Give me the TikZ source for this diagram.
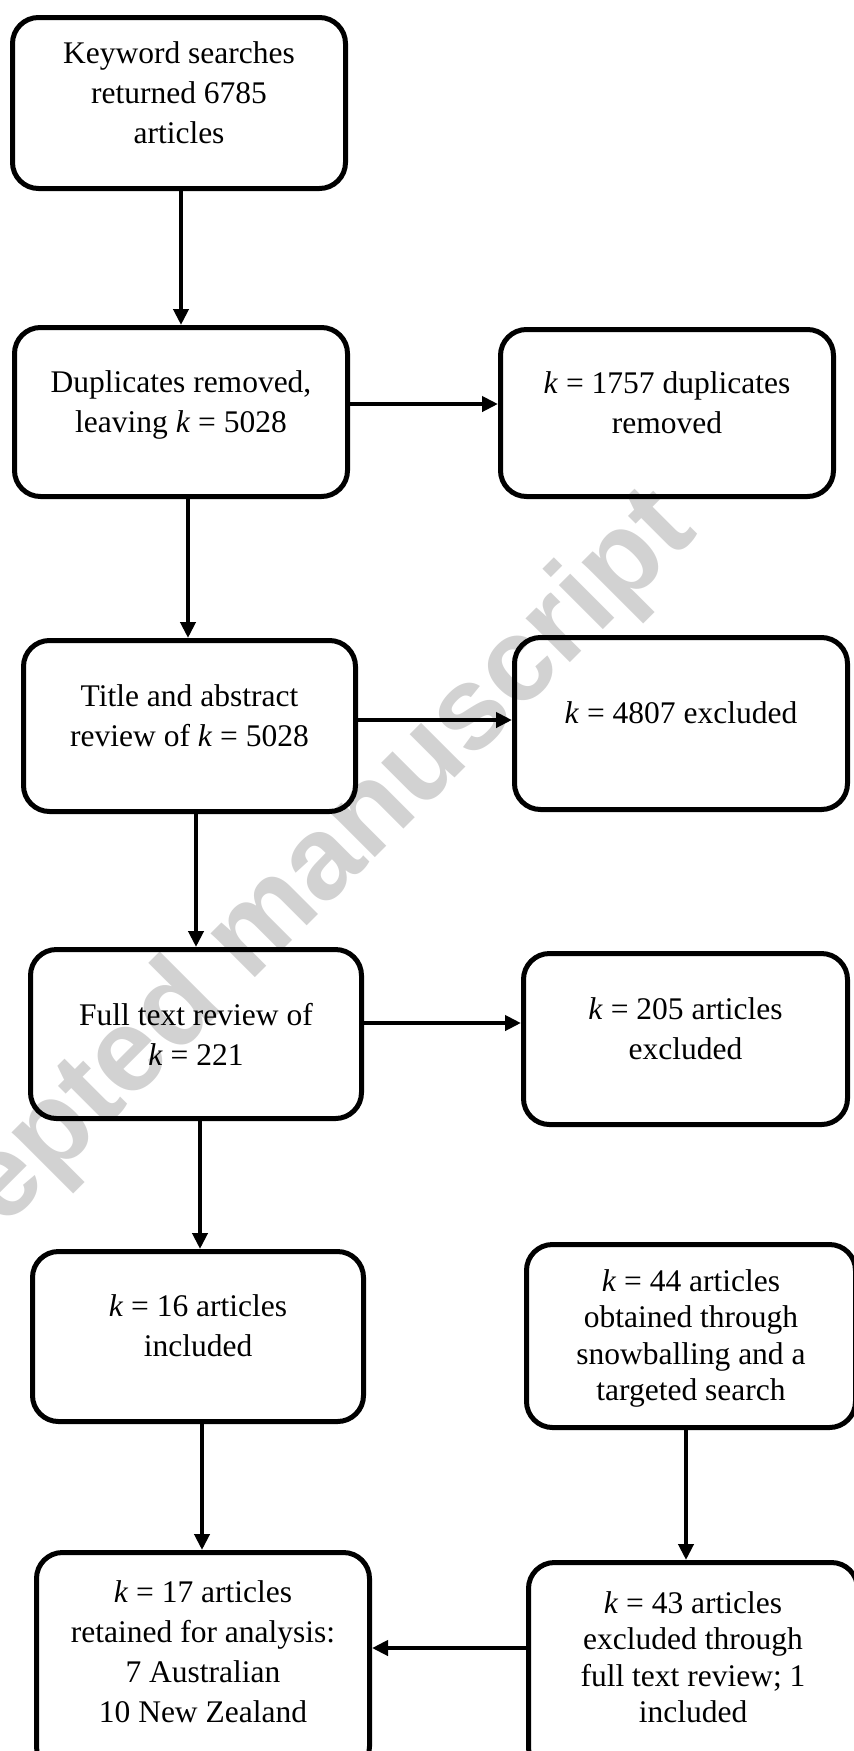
\documentclass[tikz,border=0pt]{standalone}
\usepackage{fontspec}
\setmainfont{Liberation Serif}
\newfontfamily\wmfont{Liberation Sans}
\usetikzlibrary{arrows.meta}
\definecolor{wmgray}{RGB}{210,210,210}
\newcommand\tsx[1]{\rule{0pt}{#1}}
\newcommand\bsx[1]{\rule[-#1]{0pt}{#1}}
\begin{document}
\begin{tikzpicture}[x=1pt,y=-1pt,
  box/.style={draw, line width=5pt, rounded corners=26pt, align=center, inner sep=0pt,
    font=\fontsize{31.5}{40}\selectfont},
  tight/.style={font=\fontsize{31.5}{36.5}\selectfont},
  sz/.style 2 args={minimum width={#1pt-5pt}, minimum height={#2pt-5pt}},
  arr/.style={line width=4.5pt, -{Triangle[length=16pt,width=15pt]}},
  wm/.style={text=wmgray, font=\wmfont\bfseries\fontsize{118}{118}\selectfont, inner sep=0pt}]
\useasboundingbox (0,0) rectangle (854,1751);
\clip (0,0) rectangle (854,1751);

% watermark
\node[wm, rotate=45, anchor=base] (wm) at (275,958) {Accepted manuscript};

% boxes
\node[box, sz={338}{176}] (b1) at (179,103)
  {\tsx{24pt}Keyword searches\\returned 6785\\articles\bsx{24pt}};
\node[box, sz={338}{174}] (b2) at (181,412)
  {\tsx{24pt}Duplicates removed,\\leaving \textit{k} = 5028\bsx{24pt}};
\node[box, sz={338}{172}] (b3) at (667,413)
  {\tsx{24pt}\textit{k} = 1757 duplicates\\removed\bsx{24pt}};
\node[box, sz={337}{176}] (b4) at (189.5,726)
  {\tsx{24pt}Title and abstract\\review of \textit{k} = 5028\bsx{24pt}};
\node[box, sz={338}{177}] (b5) at (681,723.5)
  {\tsx{24pt}\textit{k} = 4807 excluded\bsx{24pt}};
\node[box, sz={336}{174}] (b6) at (196,1034)
  {\tsx{35pt}Full text review of\\\textit{k} = 221\bsx{13pt}};
\node[box, sz={329}{176}] (b7) at (685.5,1039)
  {\tsx{24pt}\textit{k} = 205 articles\\excluded\bsx{24pt}};
\node[box, sz={336}{175}] (b8) at (198,1336.5)
  {\tsx{24pt}\textit{k} = 16 articles\\included\bsx{24pt}};
\node[box, tight, sz={334}{188}] (b9) at (691,1336)
  {\tsx{34pt}\textit{k} = 44 articles\\obtained through\\snowballing and a\\targeted search\bsx{14pt}};
\node[box, sz={338}{225}] (b10) at (203,1662.5)
  {\tsx{24pt}\textit{k} = 17 articles\\retained for analysis:\\7 Australian\\10 New Zealand\bsx{24pt}};
\node[box, tight, sz={334}{216}] (b11) at (693,1668)
  {\tsx{24pt}\textit{k} = 43 articles\\excluded through\\full text review; 1\\included\bsx{24pt}};

% connectors
\draw[arr] ([xshift=2pt]b1.south) -- ([xshift=2pt]b1.south |- b2.north);
\draw[arr] ([yshift=8pt]b2.east) -- ([yshift=8pt]b2.east -| b3.west);
\draw[arr] ([xshift=7pt]b2.south) -- ([xshift=7pt]b2.south |- b4.north);
\draw[arr] ([yshift=6pt]b4.east) -- ([yshift=6pt]b4.east -| b5.west);
\draw[arr] ([xshift=6.5pt]b4.south) -- ([xshift=6.5pt]b4.south |- b6.north);
\draw[arr] ([yshift=11pt]b6.east) -- ([yshift=11pt]b6.east -| b7.west);
\draw[arr] ([xshift=4pt]b6.south) -- ([xshift=4pt]b6.south |- b8.north);
\draw[arr] ([xshift=4pt]b8.south) -- ([xshift=4pt]b8.south |- b10.north);
\draw[arr] ([xshift=-5pt]b9.south) -- ([xshift=-5pt]b9.south |- b11.north);
\draw[arr] ([yshift=20pt]b11.west) -- ([yshift=20pt]b11.west -| b10.east);
\end{tikzpicture}
\end{document}
